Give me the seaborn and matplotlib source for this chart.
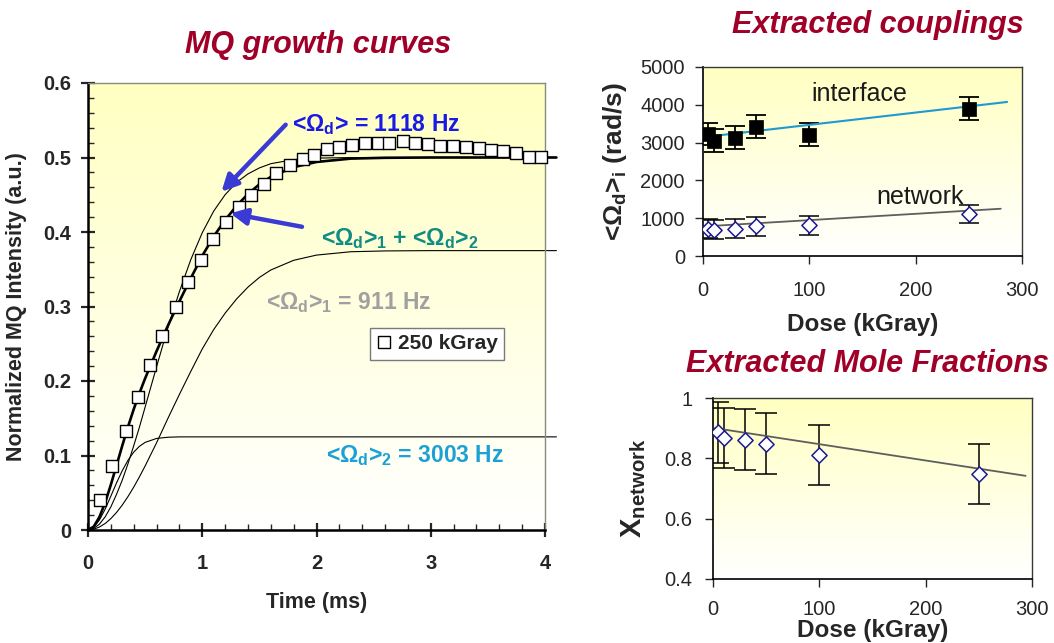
import numpy as np
import matplotlib
matplotlib.use("Agg")
import matplotlib.pyplot as plt
import seaborn as sns
from matplotlib.colors import LinearSegmentedColormap
from matplotlib.lines import Line2D
from matplotlib.ticker import MultipleLocator

# ------------------------------------------------------------------ data
# MQ growth curve, 250 kGray sample (time in ms, normalized MQ intensity)
time_ms = [0.105, 0.211, 0.330, 0.440, 0.546, 0.652, 0.768, 0.877, 0.990, 1.096,
           1.206, 1.321, 1.430, 1.540, 1.649, 1.768, 1.878, 1.981, 2.090, 2.200,
           2.315, 2.425, 2.534, 2.637, 2.753, 2.862, 2.972, 3.085, 3.194, 3.310,
           3.419, 3.528, 3.631, 3.747, 3.856, 3.965]
mq_250 = [0.040, 0.086, 0.133, 0.178, 0.222, 0.261, 0.299, 0.333, 0.362, 0.390,
          0.413, 0.434, 0.450, 0.465, 0.479, 0.490, 0.4975, 0.503, 0.511, 0.5135,
          0.5165, 0.519, 0.5195, 0.5195, 0.522, 0.519, 0.518, 0.516, 0.515, 0.5135,
          0.513, 0.510, 0.509, 0.506, 0.501, 0.501]

# fitted curves
fit_t = [0, 0.05, 0.1, 0.15, 0.2, 0.25, 0.3, 0.35, 0.4, 0.45, 0.5, 0.6, 0.7, 0.8,
         0.9, 1.0, 1.1, 1.2, 1.3, 1.4, 1.5, 1.6, 1.8, 2.0, 2.3, 2.6, 3.0, 4.1]
fit_1118 = [0, 0.002, 0.0079, 0.0176, 0.031, 0.048, 0.067, 0.089, 0.113, 0.138,
            0.165, 0.219, 0.272, 0.320, 0.363, 0.399, 0.428, 0.450, 0.4665, 0.478,
            0.486, 0.4917, 0.4972, 0.4992, 0.4999, 0.5, 0.5, 0.5]
fit_sum = [0, 0.0045, 0.0174, 0.0367, 0.0608, 0.0869, 0.1132, 0.1385, 0.162, 0.1836,
           0.2035, 0.240, 0.2745, 0.307, 0.338, 0.368, 0.394, 0.416, 0.435, 0.451,
           0.464, 0.474, 0.487, 0.494, 0.4985, 0.4996, 0.5, 0.5]
fit_911 = [0, 0.001, 0.004, 0.0087, 0.0153, 0.0236, 0.0335, 0.0449, 0.0575, 0.0713,
           0.0859, 0.117, 0.150, 0.182, 0.213, 0.243, 0.269, 0.291, 0.310, 0.326,
           0.339, 0.349, 0.362, 0.369, 0.3735, 0.3746, 0.375, 0.375]
fit_3003 = [0, 0.0035, 0.0134, 0.028, 0.0455, 0.0633, 0.0797, 0.0936, 0.1045, 0.1123,
            0.1176, 0.1229, 0.1245, 0.125, 0.125, 0.125, 0.125, 0.125, 0.125, 0.125,
            0.125, 0.125, 0.125, 0.125, 0.125, 0.125, 0.125, 0.125]

# extracted couplings vs dose
dose = [5, 10, 30, 50, 100, 250]
omega_interface = [3230, 3050, 3130, 3420, 3210, 3900]
omega_interface_err = [290, 300, 300, 300, 300, 300]
omega_network = [725, 700, 720, 790, 810, 1110]
omega_network_err = [260, 250, 250, 250, 250, 250]
trend_interface_x = [5, 286]
trend_interface_y = [3160, 4075]
trend_network_x = [5, 280]
trend_network_y = [790, 1250]

# extracted mole fractions vs dose
x_network = [0.886, 0.867, 0.862, 0.849, 0.812, 0.748]
x_network_err = [0.10, 0.10, 0.10, 0.10, 0.10, 0.10]
trend_x_x = [2, 294]
trend_x_y = [0.900, 0.742]

# ------------------------------------------------------------------ style
sns.set_style("ticks")
plt.rcParams["font.family"] = ["Liberation Sans", "DejaVu Sans"]
plt.rcParams["mathtext.fontset"] = "custom"
plt.rcParams["mathtext.rm"] = "Liberation Sans:bold"
plt.rcParams["mathtext.it"] = "Liberation Sans:bold:italic"
plt.rcParams["mathtext.bf"] = "Liberation Sans:bold"
plt.rcParams["mathtext.sf"] = "Liberation Sans:bold"

W, H = 1054, 643
fig = plt.figure(figsize=(W / 100, H / 100), dpi=100)
fig.patch.set_facecolor("white")

TITLE_RED = "#A00028"
grad_cmap = LinearSegmentedColormap.from_list("bg", ["#FFFFFF", "#FFFFC2"])
grad = np.linspace(0, 1, 256).reshape(-1, 1)


def rect(x0, y0, x1, y1):
    return [x0 / W, 1 - y1 / H, (x1 - x0) / W, (y1 - y0) / H]


def make_axes(r):
    bg = fig.add_axes(r, zorder=0)
    bg.imshow(grad, cmap=grad_cmap, aspect="auto", origin="lower",
              extent=[0, 1, 0, 1])
    bg.set_axis_off()
    ax = fig.add_axes(r, zorder=1)
    ax.patch.set_visible(False)
    return ax


# ================================================================ main panel
ax = make_axes(rect(88, 83, 545, 530))
ax.set_xlim(0, 4)
ax.set_ylim(0, 0.6)

sns.lineplot(x=fit_t, y=fit_3003, ax=ax, color="black", lw=0.8, clip_on=False, zorder=2)
sns.lineplot(x=fit_t, y=fit_911, ax=ax, color="black", lw=0.8, clip_on=False, zorder=2)
sns.lineplot(x=fit_t, y=fit_1118, ax=ax, color="black", lw=0.8, clip_on=False, zorder=2)
sns.lineplot(x=fit_t, y=fit_sum, ax=ax, color="black", lw=1.9, clip_on=False, zorder=3)
sns.scatterplot(x=time_ms, y=mq_250, ax=ax, marker="s", s=70, color="white",
                edgecolor="black", linewidth=1.0, zorder=5, legend=False, clip_on=False)

for side in ["left", "bottom"]:
    ax.spines[side].set_linewidth(1.8)
    ax.spines[side].set_color("black")
for side in ["top", "right"]:
    ax.spines[side].set_visible(True)
    ax.spines[side].set_linewidth(1.0)
    ax.spines[side].set_color("#8a8a7a")

ax.xaxis.set_major_locator(MultipleLocator(1))
ax.xaxis.set_minor_locator(MultipleLocator(0.2))
ax.yaxis.set_major_locator(MultipleLocator(0.1))
ax.yaxis.set_minor_locator(MultipleLocator(0.02))
ax.set_yticks([0, 0.1, 0.2, 0.3, 0.4, 0.5, 0.6])
ax.set_yticklabels(["0", "0.1", "0.2", "0.3", "0.4", "0.5", "0.6"])
ax.tick_params(axis="both", which="major", direction="inout", length=10, width=1.6,
               labelsize=14.5, top=False, right=False)
ax.tick_params(axis="x", which="major", pad=12)
ax.tick_params(axis="y", which="major", pad=7)
ax.tick_params(axis="both", which="minor", direction="in", length=4, width=1.0,
               top=False, right=False)
for lab in ax.get_xticklabels() + ax.get_yticklabels():
    lab.set_fontweight("bold")

ax.set_xlabel("Time (ms)", fontsize=15.5, fontweight="bold", labelpad=14)
ax.set_ylabel("Normalized MQ Intensity (a.u.)", fontsize=15.5, fontweight="bold",
              labelpad=12)

# arrows
arrow_kw = dict(arrowstyle="-|>,head_length=0.7,head_width=0.35", color="#3a3ad4",
                lw=3.2, shrinkA=0, shrinkB=0, mutation_scale=14)
ax.annotate("", xy=(1.168, 0.454), xytext=(1.73, 0.544), arrowprops=arrow_kw, zorder=6)
ax.annotate("", xy=(1.246, 0.425), xytext=(1.873, 0.407), arrowprops=arrow_kw, zorder=6)

ax.text(1.787, 0.5354, r"<$\Omega_\mathrm{d}$> = 1118 Hz", color="#1a1ae6",
        fontsize=16.5, fontweight="bold", va="baseline", ha="left", zorder=7)
ax.text(2.04, 0.382, r"<$\Omega_\mathrm{d}$>$_1$ + <$\Omega_\mathrm{d}$>$_2$",
        color="#118c82", fontsize=16.5, fontweight="bold", va="baseline", ha="left", zorder=7)
ax.text(1.56, 0.297, r"<$\Omega_\mathrm{d}$>$_1$ = 911 Hz", color="#a0a0a0",
        fontsize=16.5, fontweight="bold", va="baseline", ha="left", zorder=7)
ax.text(2.08, 0.0906, r"<$\Omega_\mathrm{d}$>$_2$ = 3003 Hz", color="#1ba1d5",
        fontsize=16.5, fontweight="bold", va="baseline", ha="left", zorder=7)

handle = Line2D([], [], marker="s", ls="none", mfc="white", mec="black", ms=8.5, mew=1.0)
leg = ax.legend([handle], ["250 kGray"], loc="upper left",
                bbox_to_anchor=(370 / W, 1 - 328 / H), bbox_transform=fig.transFigure,
                frameon=True, fancybox=False, framealpha=1, borderaxespad=0,
                handlelength=0.7, handletextpad=0.35, borderpad=0.3,
                prop={"weight": "bold", "size": 15})
leg.get_frame().set_edgecolor("#7a7a7a")
leg.get_frame().set_linewidth(1.0)
leg.set_zorder(8)

fig.text(318 / W, 1 - 53 / H, "MQ growth curves", color=TITLE_RED, fontsize=22,
         fontweight="bold", fontstyle="italic", ha="center", va="baseline")

# ================================================================ couplings panel
ax2 = make_axes(rect(703, 67, 1022, 256))
ax2.set_xlim(0, 300)
ax2.set_ylim(0, 5000)
ax2.errorbar(dose, omega_interface, yerr=omega_interface_err, fmt="none",
             ecolor="black", elinewidth=1.3, capsize=7, capthick=1.3, zorder=3)
ax2.errorbar(dose, omega_network, yerr=omega_network_err, fmt="none",
             ecolor="black", elinewidth=1.1, capsize=7, capthick=1.1, zorder=3)
sns.lineplot(x=trend_interface_x, y=trend_interface_y, ax=ax2, color="#1e9ad2",
             lw=1.5, zorder=4)
sns.lineplot(x=trend_network_x, y=trend_network_y, ax=ax2, color="#5e5e5e",
             lw=1.3, zorder=4)
sns.scatterplot(x=dose, y=omega_interface, ax=ax2, marker="s", s=95, color="black",
                edgecolor="black", linewidth=0.5, zorder=5, legend=False)
sns.scatterplot(x=dose, y=omega_network, ax=ax2, marker="D", s=60, color="white",
                edgecolor="#1a1a90", linewidth=1.1, zorder=5, legend=False)

ax2.set_xticks([0, 100, 200, 300])
ax2.set_yticks([0, 1000, 2000, 3000, 4000, 5000])
ax2.tick_params(axis="both", direction="out", length=6, width=1.0, labelsize=14.5,
                top=False, right=False)
ax2.tick_params(axis="x", pad=12)
ax2.tick_params(axis="y", pad=7)
for side in ["left", "bottom"]:
    ax2.spines[side].set_linewidth(1.2)
    ax2.spines[side].set_color("black")
for side in ["top", "right"]:
    ax2.spines[side].set_visible(True)
    ax2.spines[side].set_linewidth(1.0)
    ax2.spines[side].set_color("#3a3a3a")
ax2.set_xlabel("Dose (kGray)", fontsize=17.5, fontweight="bold", labelpad=9)
ax2.set_ylabel(r"<$\Omega_\mathrm{d}$>$_\mathrm{i}$ (rad/s)", fontsize=19,
               fontweight="bold", labelpad=8)
ax2.text(102, 4093, "interface", fontsize=18, color="#1a1a1a", va="baseline", ha="left")
ax2.text(163, 1386, "network", fontsize=18, color="#1a1a1a", va="baseline", ha="left")

fig.text(878 / W, 1 - 33 / H, "Extracted couplings", color=TITLE_RED, fontsize=22,
         fontweight="bold", fontstyle="italic", ha="center", va="baseline")

# ================================================================ mole fraction panel
ax3 = make_axes(rect(713, 398, 1032, 579))
ax3.set_xlim(0, 300)
ax3.set_ylim(0.4, 1.0)
ax3.errorbar(dose, x_network, yerr=x_network_err, fmt="none", ecolor="black",
             elinewidth=1.1, capsize=8, capthick=1.1, zorder=3)
sns.lineplot(x=trend_x_x, y=trend_x_y, ax=ax3, color="#5e5e5e", lw=1.3, zorder=4)
sns.scatterplot(x=dose, y=x_network, ax=ax3, marker="D", s=60, color="white",
                edgecolor="#1a1a90", linewidth=1.1, zorder=5, legend=False)
ax3.set_xticks([0, 100, 200, 300])
ax3.set_yticks([0.4, 0.6, 0.8, 1.0])
ax3.set_yticklabels(["0.4", "0.6", "0.8", "1"])
ax3.tick_params(axis="both", direction="out", length=6, width=1.0, labelsize=14.5,
                top=False, right=False)
ax3.tick_params(axis="x", pad=9)
ax3.tick_params(axis="y", pad=9)
for side in ["left", "bottom"]:
    ax3.spines[side].set_linewidth(1.2)
    ax3.spines[side].set_color("black")
for side in ["top", "right"]:
    ax3.spines[side].set_visible(True)
    ax3.spines[side].set_linewidth(1.0)
    ax3.spines[side].set_color("#3a3a3a")
ax3.set_xlabel("Dose (kGray)", fontsize=17.5, fontweight="bold", labelpad=0)
ax3.set_ylabel(r"X$_\mathrm{network}$", fontsize=21, fontweight="bold", labelpad=12)

fig.text(867 / W, 1 - 371.7 / H, "Extracted Mole Fractions", color=TITLE_RED,
         fontsize=22, fontweight="bold", fontstyle="italic", ha="center", va="baseline")

fig.savefig("out.png", dpi=100, facecolor="white")
